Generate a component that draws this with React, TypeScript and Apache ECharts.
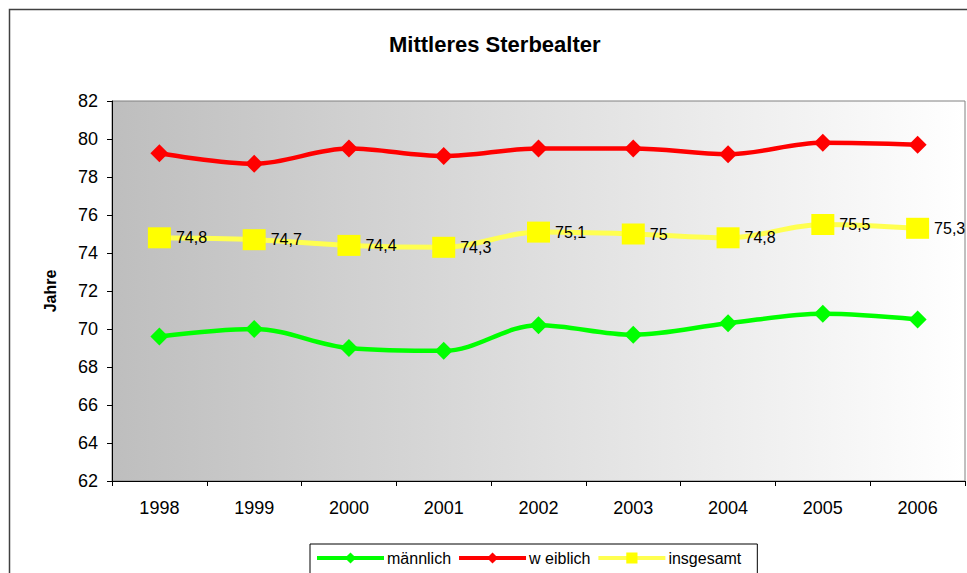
import React, { useEffect, useRef } from "react";
import * as echarts from "echarts";

const years = ["1998", "1999", "2000", "2001", "2002", "2003", "2004", "2005", "2006"];
const maennlich = [69.6, 70.0, 69.0, 68.85, 70.2, 69.7, 70.3, 70.8, 70.5];
const weiblich = [79.25, 78.7, 79.5, 79.1, 79.5, 79.5, 79.2, 79.8, 79.7];
const insgesamt = [74.8, 74.7, 74.4, 74.3, 75.1, 75.0, 74.8, 75.5, 75.3];
const seriesNames = ["männlich", "w eiblich", "insgesamt"];

const FONT = "'Liberation Sans', Arial, sans-serif";

export default function App() {
  const ref = useRef<HTMLDivElement>(null);
  useEffect(() => {
    document.body.style.margin = "0";
    const chart = echarts.init(ref.current!, null, { renderer: "svg" });
    chart.setOption({
      animation: false,
      backgroundColor: "#ffffff",
      textStyle: { fontFamily: FONT },
      title: {
        text: "Mittleres Sterbealter",
        left: 384,
        top: 28,
        textStyle: { fontSize: 22, fontWeight: "bold", color: "#000", fontFamily: FONT },
      },
      graphic: [
        {
          type: "rect",
          shape: { x: 9.5, y: 9.5, width: 1100, height: 1100 },
          style: { fill: "none", stroke: "#404040", lineWidth: 1.5 },
          silent: true,
          z: -10,
        },
      ],
      grid: {
        left: 112,
        right: 2,
        top: 101,
        bottom: 92,
        show: true,
        borderColor: "#808080",
        borderWidth: 1,
        backgroundColor: new echarts.graphic.LinearGradient(0, 0, 1, 0, [
          { offset: 0, color: "#bebebe" },
          { offset: 1, color: "#ffffff" },
        ]),
      },
      legend: {
        left: 310,
        top: 544,
        itemWidth: 67,
        itemHeight: 14,
        itemGap: 6,
        padding: [6, 16, 10, 5],
        borderColor: "#000",
        borderWidth: 1,
        backgroundColor: "#fff",
        lineStyle: { width: 4 },
        textStyle: { fontSize: 16, color: "#000", fontFamily: FONT, padding: [0, 0, 0, -2] },
        data: seriesNames,
      },
      xAxis: {
        type: "category",
        data: years,
        boundaryGap: true,
        axisLine: { show: true, lineStyle: { color: "#000", width: 1 } },
        axisTick: { show: true, length: 5, lineStyle: { color: "#000" } },
        axisLabel: { fontSize: 18, color: "#000", margin: 18, fontFamily: FONT },
        splitLine: { show: false },
      },
      yAxis: {
        type: "value",
        min: 62,
        max: 82,
        interval: 2,
        name: "Jahre",
        nameLocation: "middle",
        nameGap: 54,
        nameTextStyle: { fontSize: 16, fontWeight: "bold", color: "#000", fontFamily: FONT },
        axisLine: { show: true, lineStyle: { color: "#000", width: 1 } },
        axisTick: { show: true, length: 5, lineStyle: { color: "#000" } },
        axisLabel: { fontSize: 18, color: "#000", margin: 14, fontFamily: FONT },
        splitLine: { show: false },
      },
      series: [
        {
          name: seriesNames[0],
          type: "line",
          data: maennlich,
          smooth: 0.35,
          symbol: "diamond",
          symbolSize: 18,
          lineStyle: { color: "#00ff00", width: 4.5 },
          itemStyle: { color: "#00ff00" },
        },
        {
          name: seriesNames[1],
          type: "line",
          data: weiblich,
          smooth: 0.35,
          symbol: "diamond",
          symbolSize: 18,
          lineStyle: { color: "#ff0000", width: 4.5 },
          itemStyle: { color: "#ff0000" },
        },
        {
          name: seriesNames[2],
          type: "line",
          data: insgesamt,
          smooth: 0.35,
          symbol: "rect",
          symbolSize: [23, 21],
          lineStyle: { color: "#ffff50", width: 5 },
          itemStyle: { color: "#ffff00" },
          label: {
            show: true,
            position: "right",
            distance: 5,
            fontSize: 16,
            color: "#000",
            fontFamily: FONT,
            formatter: (p: any) => String(p.value).replace(".", ","),
          },
        },
      ],
    });
    return () => chart.dispose();
  }, []);
  return <div ref={ref} style={{ width: 967, height: 573 }} />;
}
